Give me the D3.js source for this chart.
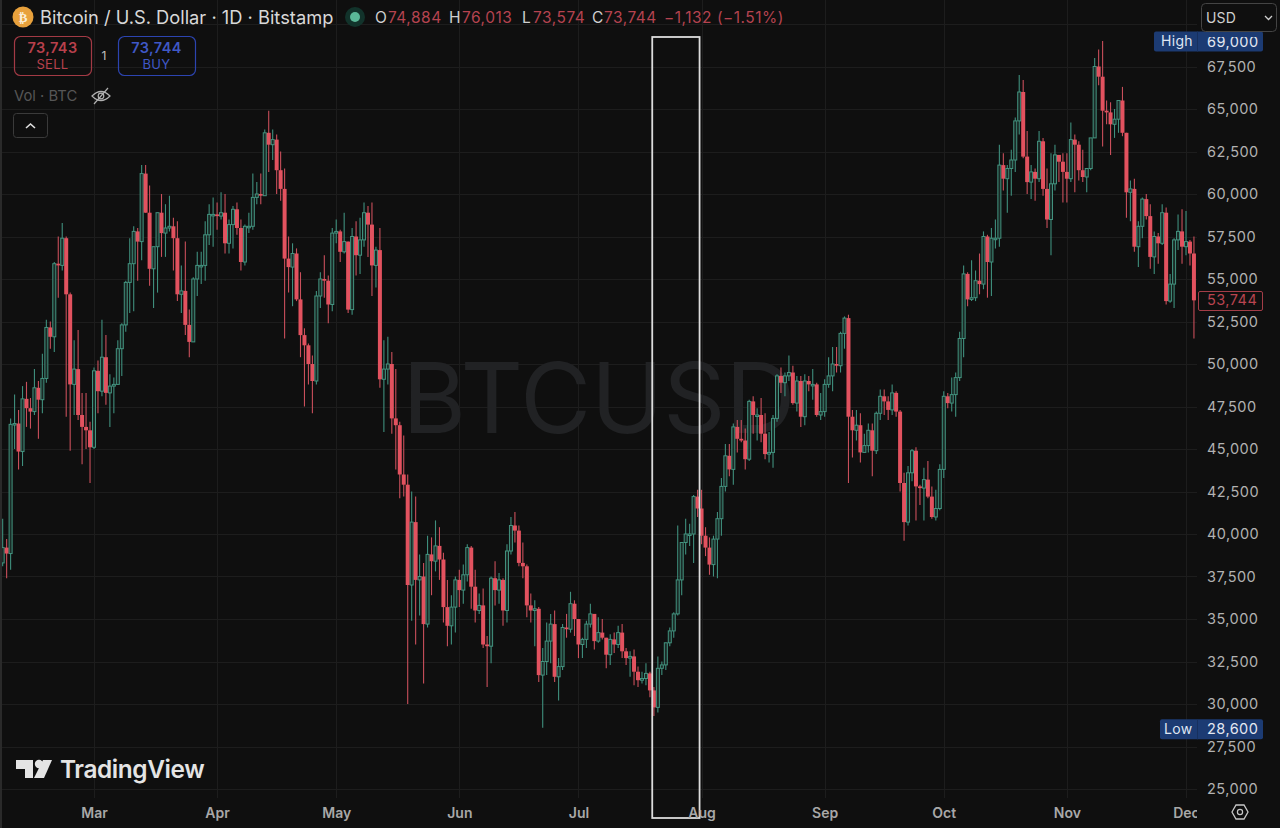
<!DOCTYPE html>
<html><head><meta charset="utf-8">
<script src="https://cdn.jsdelivr.net/npm/d3@7"></script>
<style>
html,body{margin:0;padding:0;background:#0f0f0f;overflow:hidden}
svg{display:block;font-family:Inter,"Noto Sans",sans-serif}
</style></head><body><svg id="c" width="1280" height="828"></svg>
<script>
const firstDay = "2021-02-06";
const opens = [
38300,39200,38850,46450,46500,44850,47950,47400,47200,48600,47900,49150,52150,51600,55900,55800,57400,54100,48800,49700,47000,46300,46100,
45100,49600,48400,50400,48300,48700,48800,50900,52300,54800,55900,57800,57200,61200,58900,55600,56900,58900,57700,58000,58100,57400,54100,54300,52300,51300,55000,55800,55800,57600,58800,
58800,58700,58900,57100,58200,59100,58000,56000,58100,58100,59800,60000,59900,63600,62900,63200,61400,60300,56200,55700,56500,53800,51700,51100,50000,49000,54000,55000,54900,53500,
57700,57800,56600,57200,53200,57500,56400,57300,58900,58200,55800,56700,49100,49700,50000,46800,46400,43500,42900,37000,40700,37300,37500,34700,38800,38400,39300,38500,35700,34600,35700,
37300,36700,37600,39200,36900,35500,35800,33500,33400,37400,36700,37300,35500,39000,40500,40200,38300,38100,35800,35500,35600,31700,32500,33700,34700,31600,32200,34500,34400,35900,
35000,33500,33800,34700,35300,33700,34200,33900,32900,33800,33500,34200,33100,32700,32800,31900,31400,31500,31800,30800,29800,32100,32300,33600,34300,35300,37300,39500,40000,40000,42200,
41500,39900,39200,38200,39700,40900,42800,44600,43800,46300,45600,45500,44400,47800,47000,47000,45900,44700,44800,46800,49300,48900,49300,49500,47700,49000,46900,49000,48800,48800,47000,
47200,48800,49300,50000,49900,51800,52700,46900,46100,46400,44800,45200,46100,44900,47100,48100,47800,47300,48300,47200,43000,40700,43600,44900,42800,42700,43200,42200,41000,41500,
43800,48100,47700,48200,49200,51500,55300,53800,53900,54900,54700,57500,56000,57400,57400,61700,60900,61500,62000,64300,66000,62200,60700,61300,60900,63100,60300,58500,60600,62300,61900,
61300,60900,63200,62900,61400,61000,61500,63300,67500,66900,64900,64800,64100,64400,65500,63600,60100,60300,56900,58100,59700,58700,56300,57500,57100,58900,53700,54700,57300,57800,
56900,57200,56500];
const highs = [
40900,39700,46800,48200,47300,48700,48950,48000,49700,49000,50600,52600,52500,56000,57500,58300,57500,54200,51400,52000,48300,48300,46600,
49800,50200,52600,51700,49400,49200,51400,52400,54900,57400,58100,58000,61700,61700,60500,56900,58900,60000,59400,59900,58600,58400,55800,57200,53200,55100,56600,56600,58400,59400,59800,
59500,60100,60000,58500,59300,59500,58500,58200,58900,61200,60700,61200,63800,64900,63800,63500,62500,61500,57500,57100,56800,55400,52100,51200,50500,54300,55400,56400,55200,58000,
58500,57900,58900,57200,58000,58400,58600,59500,59300,59500,56900,58000,51400,51600,50700,49700,46600,45800,43500,42500,42200,38800,38300,39900,39800,40800,40400,38900,37300,36400,37500,
37900,38200,39400,39300,37900,36500,36800,34000,37500,38400,37700,37400,39400,41000,41300,40500,39500,38200,36500,36100,35700,33300,34800,35300,35500,32700,34700,35300,36600,36100,
35000,33900,34900,35900,35300,35100,35000,33900,34100,34200,34600,34700,33300,33100,33200,32200,31900,32400,31900,31000,32800,32500,33600,34500,35400,40500,39500,40900,40600,42300,42600,
42600,40400,39800,39900,41300,43300,45300,45300,46500,46700,46700,46200,47900,48100,47400,48000,47100,46000,47000,49400,49800,49500,50500,49900,49300,49300,49400,49300,49700,48900,48300,
49100,50400,51000,51000,51900,52800,52900,47300,47300,47100,45900,46500,46500,47200,48500,48500,48100,48800,48400,47300,43600,44000,45000,45100,42900,43900,44300,42800,42600,44100,
48400,48300,49200,49500,51900,55800,55400,56100,55500,56500,57800,57600,58000,58500,62900,62400,61700,62600,64500,67000,66700,63700,61700,61500,63700,63300,61500,62400,62900,62300,62400,
62400,64200,63500,63100,62600,61500,63300,68000,68500,69000,65500,65400,65000,65500,66300,63600,60800,60900,58400,59800,60000,59400,57800,57700,59400,59200,55300,57400,58800,59100,
59000,57300,57500];
const lows = [
38100,37400,37900,45000,43800,44000,46300,46200,47000,45600,47100,48900,50900,50700,53900,55500,46900,44900,47000,46700,44100,45000,43000,
45000,47100,48100,47600,46300,47100,48800,49300,51900,53000,53100,54900,56100,58900,54600,53300,54200,56300,56300,57800,55500,53700,53000,51700,50400,51300,54000,54700,54900,57000,56900,
57900,58500,56500,56500,56800,57600,55500,55800,57700,57900,59400,59400,59900,61300,62000,60000,59600,51500,54200,53400,53700,50400,47500,48800,47100,48800,53300,53900,52400,53100,
57100,56000,56500,53000,52900,55200,55300,56900,56300,54000,54500,48600,46000,48800,45900,43800,42100,42200,30000,34900,33500,35200,31200,34500,36400,37800,37300,34800,33400,33500,34200,
35700,35900,37200,35600,34800,35300,33300,31000,32400,35800,35900,34600,34800,38800,39500,38100,37400,35100,34800,33400,31300,28600,31700,32400,31300,30200,32000,33900,34200,34000,
32700,32700,33300,34500,33200,33600,33800,32100,32300,33000,33300,32700,32300,31600,31100,31000,31200,31100,30400,29300,29500,31700,32000,33400,33900,35200,36400,38800,39300,38300,41000,
39400,38700,37600,37500,37400,39900,42500,43400,42900,44800,45400,43800,44300,45900,45500,45400,44400,44200,43900,46600,48300,48100,49000,47600,47200,46300,46400,48400,47900,46900,46700,
46900,48600,48400,49500,49500,50900,43000,44500,45500,44200,44800,44800,43400,44700,46700,47000,46700,47000,46900,42500,39600,40500,43100,40800,41700,40800,42100,40900,40800,41400,
43300,47400,47200,46900,49000,50400,53400,53700,53700,54100,54400,53900,54000,56800,56900,60200,58900,59900,61300,63500,62100,60000,59700,59600,60700,59900,58000,56400,60200,60700,59500,
59500,60700,60100,60800,60700,60100,61400,63300,66400,62800,64100,62300,63300,63600,63400,58600,58400,56600,55700,57400,58500,55600,55300,55900,57000,53500,53600,53300,56700,55900,
56400,55800,51500];
const closes = [
39200,38850,46450,46500,44850,47950,47400,47200,48600,47900,49150,52150,51600,55900,55800,57400,54100,48800,49700,47000,46300,46100,45100,
49600,48400,50400,48300,48700,48800,50900,52300,54800,55900,57800,57200,61200,58900,55600,56900,58900,57700,58000,58100,57400,54100,54300,52300,51300,55000,55800,55800,57600,58800,58800,
58700,58900,57100,58200,59100,58000,56000,58100,58100,59800,60000,59900,63600,62900,63200,61400,60300,56200,55700,56500,53800,51700,51100,50000,49000,54000,55000,54900,53500,57700,
57800,56600,57200,53200,57500,56400,57300,58900,58200,55800,56700,49100,49700,50000,46800,46400,43500,42900,37000,40700,37300,37500,34700,38800,38400,39300,38500,35700,34600,35700,37300,
36700,37600,39200,36900,35500,35800,33500,33400,37400,36700,37300,35500,39000,40500,40200,38300,38100,35800,35500,35600,31700,32500,33700,34700,31600,32200,34500,34400,35900,35000,
33500,33800,34700,35300,33700,34200,33900,32900,33800,33500,34200,33100,32700,32800,31900,31400,31500,31800,30800,29800,32100,32300,33600,34300,35300,37300,39500,40000,40000,42200,41500,
39900,39200,38200,39700,40900,42800,44600,43800,46300,45600,45500,44400,47800,47000,47000,45900,44700,44800,46800,49300,48900,49300,49500,47700,49000,46900,49000,48800,48800,47000,47200,
48800,49300,50000,49900,51800,52700,46900,46100,46400,44800,45200,46100,44900,47100,48100,47800,47300,48300,47200,43000,40700,43600,44900,42800,42700,43200,42200,41000,41500,43800,
48100,47700,48200,49200,51500,55300,53800,53900,54900,54700,57500,56000,57400,57400,61700,60900,61500,62000,64300,66000,62200,60700,61300,60900,63100,60300,58500,60600,62300,61900,61300,
60900,63200,62900,61400,61000,61500,63300,67500,66900,64900,64800,64100,64400,65500,63600,60100,60300,56900,58100,59700,58700,56300,57500,57100,58900,53700,54700,57300,57800,56900,
57200,56500,53744];

const monthLabels = ["Mar","Apr","May","Jun","Jul","Aug","Sep","Oct","Nov","Dec"];
const monthDates = ["2021-03-01","2021-04-01","2021-05-01","2021-06-01","2021-07-01","2021-08-01","2021-09-01","2021-10-01","2021-11-01","2021-12-01"];
const priceTicks = [25000,27500,30000,32500,35000,37500,40000,42500,45000,47500,50000,52500,55000,57500,60000,62500,65000,67500];
const highLabel = 69000, lowLabel = 28600, lastLabel = 53744;
const boxDates = ["2021-07-19T14:00Z","2021-07-31T12:00Z"];

const svg = d3.select("#c");
const T = s => new Date(s.length===10 ? s+"T00:00Z" : s);
const x = d3.scaleUtc().domain([T("2021-03-01"),T("2021-12-01")]).range([94,1186]);
const y = d3.scaleLinear().domain([25000,67500]).range([789,66.5]);
const fmt = d3.format(",");
const days = closes.map((_,i)=>d3.utcDay.offset(T(firstDay),i));
const paneR = 1197, paneB = 798;

svg.append("rect").attr("width",1280).attr("height",828).attr("fill","#0f0f0f");
svg.append("rect").attr("x",0).attr("width",2).attr("height",828).attr("fill","#2a2a2a");

const defs = svg.append("defs");
defs.append("clipPath").attr("id","pane").append("rect").attr("x",2).attr("y",0).attr("width",paneR-2).attr("height",paneB);
defs.append("clipPath").attr("id","hi").append("rect").attr("x",1150).attr("y",37).attr("width",120).attr("height",20);

// grid
const grid = svg.append("g").attr("stroke","#1d1d1d").attr("stroke-width",1);
grid.selectAll("line.h").data(priceTicks.concat([70000])).join("line").attr("class","h")
  .attr("x1",2).attr("x2",paneR).attr("y1",d=>Math.round(y(d))+.5).attr("y2",d=>Math.round(y(d))+.5);
grid.selectAll("line.v").data(monthDates).join("line").attr("class","v")
  .attr("x1",d=>Math.round(x(T(d)))+.5).attr("x2",d=>Math.round(x(T(d)))+.5).attr("y1",0).attr("y2",paneB);

// watermark
svg.append("text").attr("x",599).attr("y",433).attr("text-anchor","middle")
  .attr("font-size",97).attr("font-weight",400).attr("fill","#212224").attr("font-family","Inter").text("BTCUSD");

// candles
const cg = svg.append("g").attr("clip-path","url(#pane)");
const up = i => closes[i] >= opens[i];
const idx = d3.range(closes.length);
const GREEN = "#43937f", RED = "#e2525f";
cg.selectAll("line.w").data(idx).join("line").attr("class","w")
  .attr("x1",i=>x(days[i])).attr("x2",i=>x(days[i]))
  .attr("y1",i=>y(highs[i])).attr("y2",i=>y(lows[i]))
  .attr("stroke",i=>up(i)?"#3f8f7d":"#c94f5b").attr("stroke-width",1.1);
cg.selectAll("rect.b").data(idx).join("rect").attr("class","b")
  .attr("x",i=>x(days[i])-(up(i)?1.5:2)).attr("width",i=>up(i)?3:4)
  .attr("y",i=>y(Math.max(opens[i],closes[i])))
  .attr("height",i=>Math.max(1.5,Math.abs(y(opens[i])-y(closes[i]))))
  .attr("fill",i=>up(i)?"#1a2b27":RED)
  .attr("stroke",i=>up(i)?GREEN:"none").attr("stroke-width",1);

// annotation box
const bx0=x(T(boxDates[0])), bx1=x(T(boxDates[1]));
svg.append("rect").attr("x",bx0).attr("y",37).attr("width",bx1-bx0).attr("height",781)
  .attr("fill","none").attr("stroke","#dcdcdc").attr("stroke-width",1.8);

// price axis
const yAxis = d3.axisRight(y).tickValues(priceTicks).tickFormat(fmt).tickSize(0).tickPadding(0);
const yg = svg.append("g").attr("transform","translate(1207,0)").call(yAxis);
yg.select(".domain").remove();
yg.selectAll("text").attr("font-size",14.5).attr("font-family","Inter").attr("fill","#b2b2b2").attr("letter-spacing",0.45);

// time axis
const xAxis = d3.axisBottom(x).tickValues(monthDates.map(T)).tickFormat((d,i)=>monthLabels[i]).tickSize(0).tickPadding(0);
const xg = svg.append("g").attr("transform","translate(0,809)").call(xAxis);
xg.select(".domain").remove();
xg.selectAll("text").attr("font-size",14).attr("font-weight",600).attr("font-family","Inter").attr("fill","#a8a8a8").attr("dy","0.62em");
svg.append("rect").attr("x",paneR).attr("y",800).attr("width",30).attr("height",28).attr("fill","#0f0f0f");

// tags
function tag(label,val,yc,clipValue){
  const g=svg.append("g");
  const lx = label==="High"?1154:1160;
  g.append("rect").attr("x",lx).attr("y",yc-9.5).attr("width",1263-lx).attr("height",20).attr("rx",2).attr("fill","#1c3b73");
  g.append("line").attr("x1",1197.5).attr("x2",1197.5).attr("y1",yc-9.5).attr("y2",yc+10.5).attr("stroke","#17305e");
  g.append("text").attr("x",lx+(label==="High"?7:4)).attr("y",yc+5).attr("font-size",14).attr("letter-spacing",0.3).attr("fill","#dfe6f2").attr("font-family","Inter").text(label);
  const v=g.append("text").attr("x",1207).attr("y",yc+5.5).attr("font-size",14.5).attr("letter-spacing",0.45).attr("fill","#e3e8f2").attr("font-family","Inter").text(fmt(val));
  if(clipValue) v.attr("clip-path","url(#hi)");
}
tag("High",highLabel,y(highLabel),true);
tag("Low",lowLabel,y(lowLabel)+1,false);
svg.append("rect").attr("x",1198.5).attr("y",291.5).attr("width",64).attr("height",19).attr("fill","#0f0f0f").attr("stroke","#a33d47").attr("rx",1.5);
svg.append("text").attr("x",1207).attr("y",y(lastLabel)+5).attr("font-size",14.5).attr("letter-spacing",0.45).attr("fill","#b8444f").attr("font-family","Inter").text(fmt(lastLabel));

// USD
svg.append("rect").attr("x",1201.5).attr("y",3.5).attr("width",75).attr("height",28).attr("rx",4).attr("fill","#0f0f0f").attr("stroke","#444");
svg.append("text").attr("x",1206).attr("y",23).attr("font-size",14).attr("letter-spacing",0.2).attr("fill","#d0d0d0").text("USD");
svg.append("path").attr("d","M1265 16l3.5 3.5l3.5-3.5").attr("fill","none").attr("stroke","#cfcfcf").attr("stroke-width",1.3);

// header
svg.append("circle").attr("cx",23).attr("cy",17).attr("r",10.5).attr("fill","#e8a13c");
svg.append("text").attr("x",23).attr("y",22).attr("text-anchor","middle").attr("font-size",13).attr("font-weight",700).attr("fill","#fbeed8").attr("font-family","DejaVu Sans").text("₿");
svg.append("text").attr("x",40).attr("y",23.5).attr("font-size",18.3).attr("fill","#d8d8d8").text("Bitcoin / U.S. Dollar · 1D · Bitstamp");
svg.append("circle").attr("cx",355).attr("cy",17).attr("r",10).attr("fill","#12332b");
svg.append("circle").attr("cx",355).attr("cy",17).attr("r",5).attr("fill","#5ab898");
const RT="#b5434f", GT="#cfcfcf";
[["O",375,GT],["74,884",388,RT],["H",449,GT],["76,013",462,RT],["L",522,GT],["73,574",533,RT],["C",592,GT],["73,744",604,RT],["−1,132 (−1.51%)",664,RT]]
 .forEach(([t,px,c])=>svg.append("text").attr("x",px).attr("y",23).attr("font-size",15.5).attr("fill",c).attr("letter-spacing",0.5).text(t));

// sell / buy
function btn(x0,w,c,tc,price,lab){
  svg.append("rect").attr("x",x0+.5).attr("y",36.5).attr("width",w).attr("height",39).attr("rx",6).attr("fill","none").attr("stroke",c).attr("stroke-width",1.2);
  svg.append("text").attr("x",x0+w/2).attr("y",53).attr("text-anchor","middle").attr("font-size",14.5).attr("font-weight",600).attr("letter-spacing",0.4).attr("fill",tc).text(price);
  svg.append("text").attr("x",x0+w/2).attr("y",69).attr("text-anchor","middle").attr("font-size",13).attr("letter-spacing",0.3).attr("fill",tc).text(lab);
}
btn(14,77,"#a33a45","#b8404c","73,743","SELL");
btn(118,77,"#2c44b0","#3f58c6","73,744","BUY");
svg.append("text").attr("x",104).attr("y",60).attr("text-anchor","middle").attr("font-size",12).attr("fill","#c0c0c0").text("1");
svg.append("text").attr("x",14).attr("y",101).attr("font-size",14.8).attr("fill","#565656").text("Vol · BTC");
const eye=svg.append("g").attr("fill","none").attr("stroke","#b0b0b0").attr("stroke-width",1.2);
eye.append("path").attr("d","M92 96q9-9 18 0q-9 9-18 0z");
eye.append("circle").attr("cx",101).attr("cy",96).attr("r",2.8);
eye.append("path").attr("d","M94 104L108 88");
svg.append("rect").attr("x",13.5).attr("y",113.5).attr("width",34).attr("height",24).attr("rx",3).attr("fill","#0f0f0f").attr("stroke","#3a3a3a");
svg.append("path").attr("d","M26 128l4.5-4l4.5 4").attr("fill","none").attr("stroke","#e0e0e0").attr("stroke-width",1.6);

// logo
const logo=svg.append("g").attr("fill","#e4e4e4");
logo.append("path").attr("d","M16 760H33V778H25V769H16Z");
logo.append("circle").attr("cx",39).attr("cy",764).attr("r",4.2);
logo.append("path").attr("d","M43 760H52L44 778H34Z");
svg.append("text").attr("x",60).attr("y",778).attr("font-size",24.4).attr("font-weight",600).attr("fill","#e4e4e4").attr("letter-spacing",-0.4).text("TradingView");

// settings
const sx=1240, sy=812;
svg.append("path").attr("d",`M${sx-8} ${sy}L${sx-4} ${sy-7}H${sx+4}L${sx+8} ${sy}L${sx+4} ${sy+7}H${sx-4}Z`).attr("fill","none").attr("stroke","#c8c8c8").attr("stroke-width",1.3);
svg.append("circle").attr("cx",sx).attr("cy",sy).attr("r",2.6).attr("fill","none").attr("stroke","#c8c8c8").attr("stroke-width",1.2);
</script></body></html>
